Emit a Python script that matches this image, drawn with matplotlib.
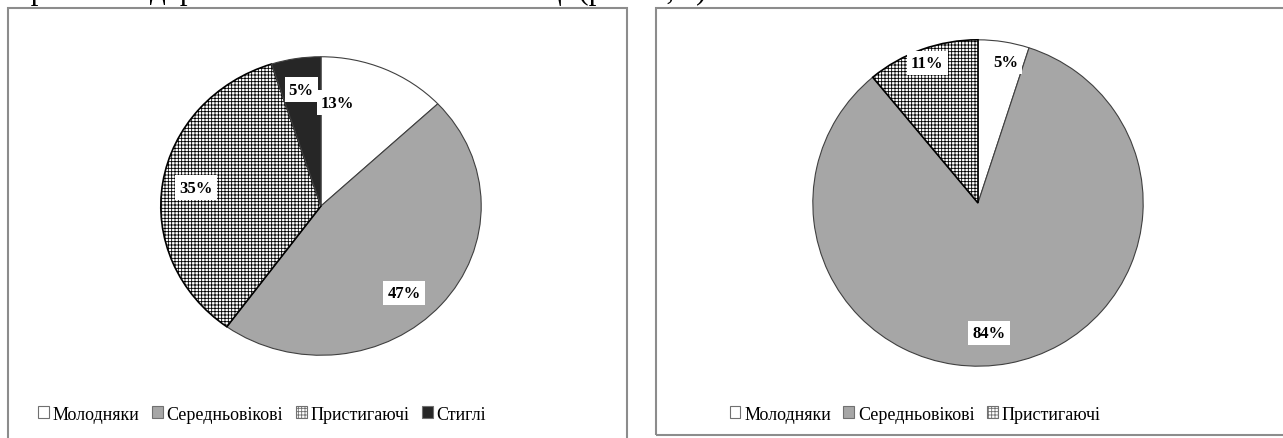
import numpy as np
import matplotlib
matplotlib.use("Agg")
import matplotlib.pyplot as plt
from matplotlib.patches import Rectangle, Patch

plt.rcParams["font.family"] = ["Liberation Serif", "DejaVu Serif"]
plt.rcParams["hatch.linewidth"] = 0.6

#------------------------------------data------------------------------------
left_labels = ["Молодняки", "Середньовікові", "Пристигаючі", "Стиглі"]
left_values = [13, 47, 35, 5]

right_labels = ["Молодняки", "Середньовікові", "Пристигаючі"]
right_values = [5, 84, 11]

top_line = "переснини деревостанів – лише 5 % площі (рис. 4, а)."

#-----------------------------------styles-----------------------------------
face = {"Молодняки": "white", "Середньовікові": "#a6a6a6",
        "Пристигаючі": "white", "Стиглі": "#262626"}
hatch = {"Пристигаючі": "+++++"}

W, H = 1283, 439
fig = plt.figure(figsize=(W / 100, H / 100), dpi=100)


def px_axes(x0, y0, x1, y1):
    # pixel box (top-left origin) -> figure axes
    return fig.add_axes([x0 / W, 1 - y1 / H, (x1 - x0) / W, (y1 - y0) / H])


def draw_pie(ax, labels, values, radii, nudges):
    wedges, _ = ax.pie(values, startangle=90, counterclock=False, radius=1,
                       colors=[face[l] for l in labels],
                       wedgeprops=dict(edgecolor="#404040", linewidth=0.8))
    for w, l in zip(wedges, labels):
        if l in hatch:
            w.set_hatch(hatch[l])
            w.set_edgecolor("black")
            w.set_linewidth(1.2)
    ax.set_aspect("auto")
    ax.set_xlim(-1.005, 1.005)
    ax.set_ylim(-1.005, 1.005)
    for w, v, r, d in zip(wedges, values, radii, nudges):
        ang = np.deg2rad((w.theta1 + w.theta2) / 2 + d)
        ax.text(r * np.cos(ang), r * np.sin(ang), f"{v}%", ha="center",
                va="center", fontsize=12, fontweight="bold",
                bbox=dict(facecolor="white", edgecolor="none", pad=3))


def draw_legend(labels, cx, cy):
    handles = [Patch(facecolor=face[l], edgecolor="#707070", linewidth=0.8,
                     hatch=hatch.get(l, None)) for l in labels]
    fig.legend(handles, labels, loc="center", bbox_to_anchor=(cx / W, 1 - cy / H),
               ncol=len(labels), frameon=False, fontsize=13,
               handlelength=0.6, handleheight=0.6, handletextpad=0.2,
               columnspacing=0.7)


# chart frames
fig.patches.append(Rectangle((8 / W, -0.05), 619 / W, 1.05 - 9 / H,
                             transform=fig.transFigure, fill=False,
                             edgecolor="#8c8c8c", linewidth=1.5))
fig.patches.append(Rectangle((656 / W, 1 - 436 / H), 0.6, 427 / H,
                             transform=fig.transFigure, fill=False,
                             edgecolor="#8c8c8c", linewidth=1.5))

# clipped line of text above the charts
fig.text(0.0, 1 + 0.5 / H, top_line, fontsize=22.5, ha="left", va="baseline")

ax1 = px_axes(160, 57, 482, 357)
draw_pie(ax1, left_labels, left_values, [0.70, 0.78, 0.79, 0.79], [15, -7, 0, 0])
draw_legend(left_labels, 262, 415)

ax2 = px_axes(812, 40, 1144, 368)
draw_pie(ax2, right_labels, right_values, [0.88, 0.80, 0.91], [-2, -6, 0])
draw_legend(right_labels, 915, 415)

fig.savefig("out.png", dpi=100)
